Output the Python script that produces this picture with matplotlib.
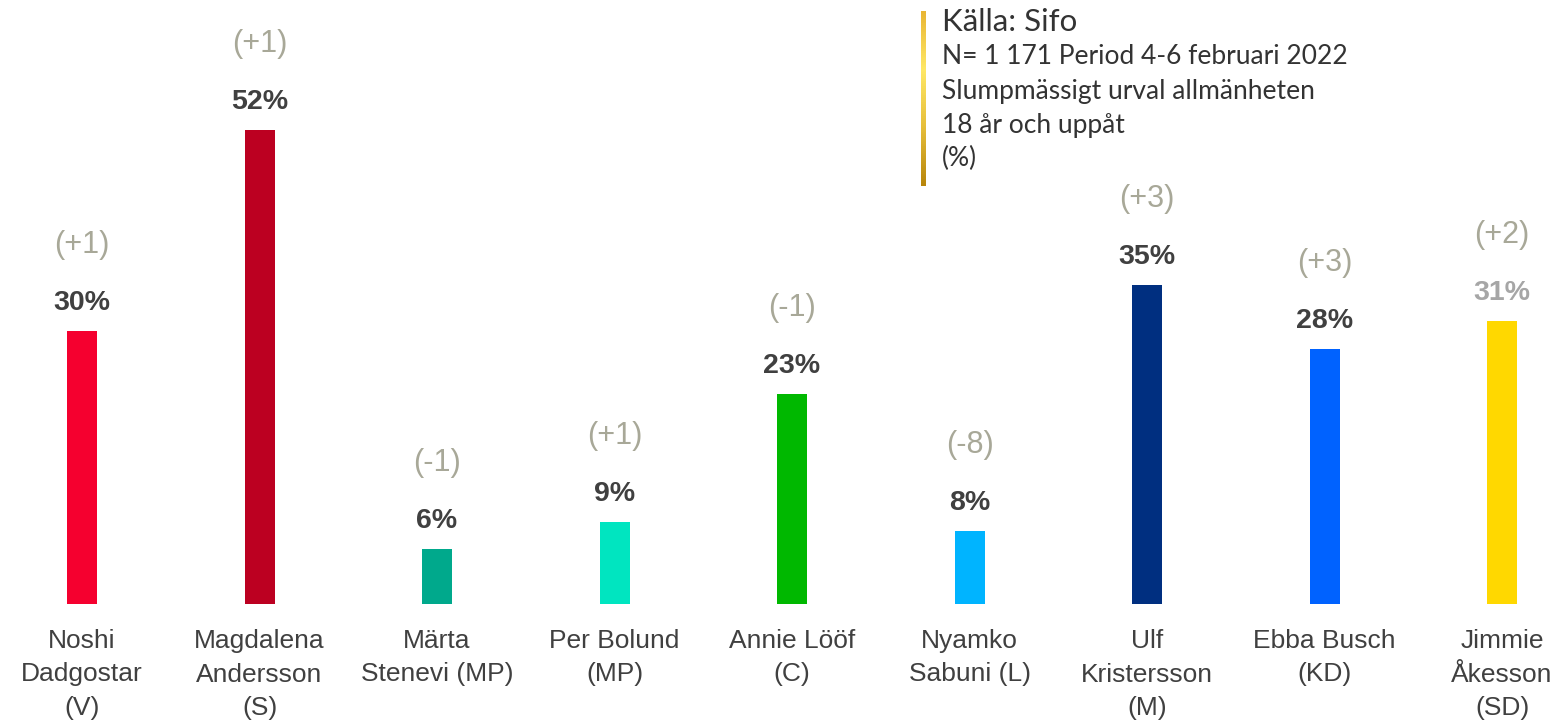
import numpy as np
import matplotlib
matplotlib.use("Agg")
import matplotlib.pyplot as plt
from matplotlib.colors import LinearSegmentedColormap

# data
names = ["Noshi\nDadgostar\n(V)", "Magdalena\nAndersson\n(S)", "Märta\nStenevi (MP)",
         "Per Bolund\n(MP)", "Annie Lööf\n(C)", "Nyamko\nSabuni (L)",
         "Ulf\nKristersson\n(M)", "Ebba Busch\n(KD)", "Jimmie\nÅkesson\n(SD)"]
values = [30, 52, 6, 9, 23, 8, 35, 28, 31]
changes = ["(+1)", "(+1)", "(-1)", "(+1)", "(-1)", "(-8)", "(+3)", "(+3)", "(+2)"]
colors = ["#F5002F", "#BC0021", "#00A98C", "#00E5C0", "#00B800",
          "#00B4FF", "#002F80", "#0062FF", "#FFD800"]
value_colors = ["#404040"] * 8 + ["#A6A6A6"]
source_lines = ["Källa: Sifo", "N= 1 171 Period 4-6 februari 2022",
                "Slumpmässigt urval allmänheten", "18 år och uppåt", "(%)"]

W, H = 1562, 721
fig = plt.figure(figsize=(W / 100, H / 100), dpi=100)

# axes: baseline at y=604px, 9.115 px per percent, bars 177.5 px apart from x=82
ax = fig.add_axes([0, (H - 604) / H, 1, 604 / H])
ax.set_xlim(-82 / 177.5, (W - 82) / 177.5)
ax.set_ylim(0, 604 / 9.115)
ax.axis("off")

x = np.arange(len(values))
ax.bar(x, values, width=30 / 177.5, color=colors)

px = 1 / 9.115  # one pixel in data units (y)
for i, v in enumerate(values):
    ax.text(x[i], v + 28 * px, f"{v}%", ha="center", va="center",
            fontsize=20.5, fontweight="bold", color=value_colors[i],
            family=["Liberation Sans", "DejaVu Sans"])
    ax.text(x[i], v + 86 * px, changes[i], ha="center", va="center",
            fontsize=22, color="#A8A898", family=["Liberation Sans", "DejaVu Sans"])
    ax.text(x[i], -25 * px, names[i], ha="center", va="top",
            fontsize=19, color="#404040", linespacing=1.5,
            family=["Liberation Sans", "DejaVu Sans"], clip_on=False)

# source box with gold gradient bar
gold = LinearSegmentedColormap.from_list("gold", ["#E9B634", "#FFE866", "#E6BE3A", "#B8860B"])
gax = fig.add_axes([921 / W, 1 - 186 / H, 5 / W, 175 / H])
gax.imshow(np.linspace(0, 1, 100).reshape(-1, 1), aspect="auto", cmap=gold)
gax.axis("off")

ys = [22, 57, 92, 126, 158]
for j, line in enumerate(source_lines):
    fig.text(942 / W, 1 - ys[j] / H, line, ha="left", va="center",
             fontsize=22.5 if j == 0 else 19, color="#333333", family=["Lato", "DejaVu Sans"])

fig.savefig("out.png", dpi=100)
